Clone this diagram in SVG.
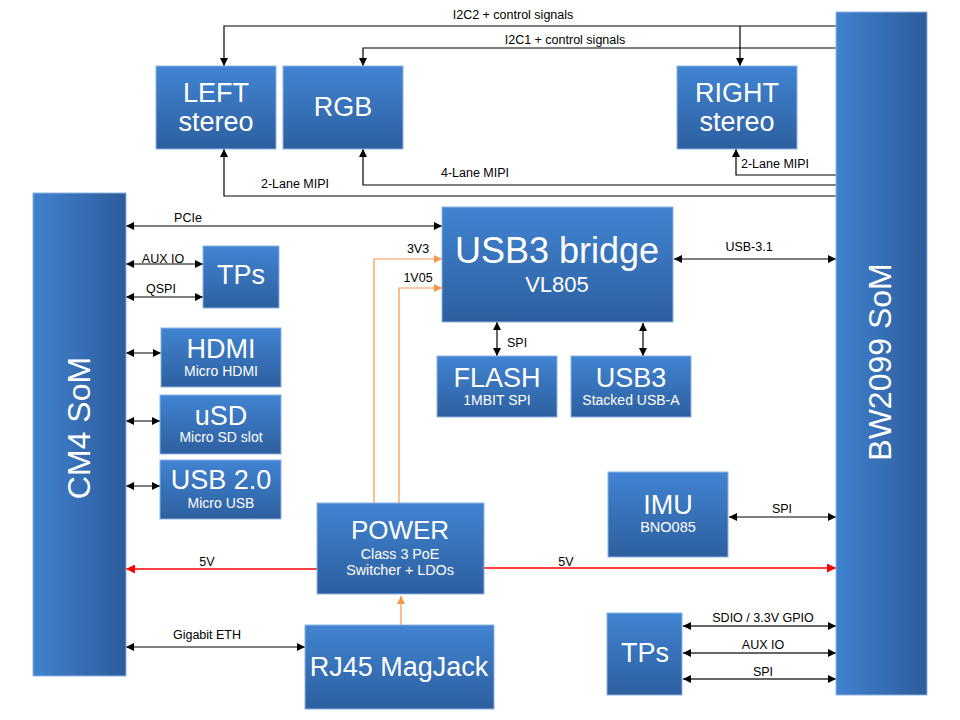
<svg xmlns="http://www.w3.org/2000/svg" width="960" height="720" viewBox="0 0 960 720">
<defs>
<linearGradient id="gv" x1="0" y1="0" x2="0" y2="1">
<stop offset="0" stop-color="#4184d2"/>
<stop offset="1" stop-color="#2d5f9f"/>
</linearGradient>
<linearGradient id="gh" x1="0" y1="0" x2="1" y2="0">
<stop offset="0" stop-color="#4082d0"/>
<stop offset="1" stop-color="#2d5c9a"/>
</linearGradient>
<marker id="ak" viewBox="0 0 10 10" refX="10" refY="5" markerWidth="9" markerHeight="8" markerUnits="userSpaceOnUse" orient="auto-start-reverse">
<path d="M0,0 L10,5 L0,10 z" fill="#000"/>
</marker>
<marker id="ao" viewBox="0 0 10 10" refX="10" refY="5" markerWidth="9" markerHeight="8" markerUnits="userSpaceOnUse" orient="auto-start-reverse">
<path d="M0,0 L10,5 L0,10 z" fill="#f79646"/>
</marker>
<marker id="ar" viewBox="0 0 10 10" refX="10" refY="5" markerWidth="10" markerHeight="9" markerUnits="userSpaceOnUse" orient="auto-start-reverse">
<path d="M0,0 L10,5 L0,10 z" fill="#ff0000"/>
</marker>
</defs>
<style>
.box{fill:url(#gv);stroke:#8db3e2;stroke-width:1}
.som{fill:url(#gh);stroke:#8db3e2;stroke-width:1}
text{font-family:"Liberation Sans",Arial,sans-serif}
.big{fill:#fff;font-size:27px;text-anchor:middle}
.sub{fill:#fff;font-size:14px;text-anchor:middle}
.vert{fill:#fff;font-size:32px;text-anchor:middle}
.lbl{fill:#000;font-size:12.5px;text-anchor:middle}
.k{fill:none;stroke:#000;stroke-width:1.2}
.k2{fill:none;stroke:#333;stroke-width:1.6}
.o{fill:none;stroke:#f79646;stroke-width:1.2}
.r{fill:none;stroke:#ff0000;stroke-width:1.3}
</style>
<rect width="960" height="720" fill="#fff"/>
<g id="connectors">
<path class="k" d="M836,26 H224 V66" marker-end="url(#ak)"/>
<path class="k" d="M740,26 V66" marker-end="url(#ak)"/>
<path class="k" d="M836,48 H363 V66" marker-end="url(#ak)"/>
<path class="k" d="M836,175 H736 V149" marker-end="url(#ak)"/>
<path class="k" d="M836,185 H363 V149" marker-end="url(#ak)"/>
<path class="k" d="M836,196 H224 V149" marker-end="url(#ak)"/>
<path class="k" d="M126,226 H442" marker-start="url(#ak)" marker-end="url(#ak)"/>
<path class="k" d="M126,264 H203" marker-start="url(#ak)" marker-end="url(#ak)"/>
<path class="k" d="M126,297 H203" marker-start="url(#ak)" marker-end="url(#ak)"/>
<path class="k" d="M126,353 H161" marker-start="url(#ak)" marker-end="url(#ak)"/>
<path class="k" d="M126,421 H160" marker-start="url(#ak)" marker-end="url(#ak)"/>
<path class="k" d="M126,486 H160" marker-start="url(#ak)" marker-end="url(#ak)"/>
<path class="o" d="M374,503 V259 H442" marker-end="url(#ao)"/>
<path class="o" d="M399,503 V288 H442" marker-end="url(#ao)"/>
<path class="k" d="M674,259 H836" marker-start="url(#ak)" marker-end="url(#ak)"/>
<path class="k" d="M497,322 V356" marker-start="url(#ak)" marker-end="url(#ak)"/>
<path class="k" d="M643,323 V356" marker-start="url(#ak)" marker-end="url(#ak)"/>
<path class="k" d="M729,517 H836" marker-start="url(#ak)" marker-end="url(#ak)"/>
<path class="r" d="M317,569 H126" marker-end="url(#ar)"/>
<path class="r" d="M484,568 H836" marker-end="url(#ar)"/>
<path class="o" d="M401,625 V596" marker-end="url(#ao)"/>
<path class="k" d="M126,647 H305" marker-start="url(#ak)" marker-end="url(#ak)"/>
<path class="k2" d="M683,626 H836" marker-start="url(#ak)" marker-end="url(#ak)"/>
<path class="k2" d="M683,653 H836" marker-start="url(#ak)" marker-end="url(#ak)"/>
<path class="k2" d="M683,679 H836" marker-start="url(#ak)" marker-end="url(#ak)"/>
<text class="lbl" x="513" y="18.5">I2C2  + control signals</text>
<text class="lbl" x="565" y="43.5">I2C1  + control signals</text>
<text class="lbl" x="741" y="167.5" style="text-anchor:start">2-Lane  MIPI</text>
<text class="lbl" x="475" y="176.5">4-Lane  MIPI</text>
<text class="lbl" x="295" y="187.5">2-Lane  MIPI</text>
<text class="lbl" x="188" y="221.5">PCIe</text>
<text class="lbl" x="163" y="262.5">AUX  IO</text>
<text class="lbl" x="161" y="292.5">QSPI</text>
<text class="lbl" x="418" y="252.5">3V3</text>
<text class="lbl" x="418" y="281.5">1V05</text>
<text class="lbl" x="749" y="250.5">USB-3.1</text>
<text class="lbl" x="507" y="346.5" style="text-anchor:start">SPI</text>
<text class="lbl" x="782" y="512.5">SPI</text>
<text class="lbl" x="207" y="565.5">5V</text>
<text class="lbl" x="566" y="565.5">5V</text>
<text class="lbl" x="207" y="638.5">Gigabit  ETH</text>
<text class="lbl" x="763" y="621.5">SDIO  / 3.3V GPIO</text>
<text class="lbl" x="763" y="648.5">AUX  IO</text>
<text class="lbl" x="763" y="676">SPI</text>
</g>
<g id="cm4">
<rect class="som" x="33" y="193" width="93" height="483"/>
<text class="vert" transform="translate(90,428) rotate(-90)">CM4 SoM</text>
</g>
<g id="bw2099">
<rect class="som" x="836" y="12" width="91" height="683"/>
<text class="vert" transform="translate(891,362) rotate(-90)">BW2099 SoM</text>
</g>
<g id="left-stereo">
<rect class="box" x="156" y="66" width="120" height="83"/>
<text class="big" x="216" y="102">LEFT</text>
<text class="big" x="216" y="131">stereo</text>
</g>
<g id="rgb">
<rect class="box" x="283" y="66" width="120" height="83"/>
<text class="big" x="343" y="116">RGB</text>
</g>
<g id="right-stereo">
<rect class="box" x="677" y="66" width="120" height="83"/>
<text class="big" x="737" y="102">RIGHT</text>
<text class="big" x="737" y="131">stereo</text>
</g>
<g id="usb3-bridge">
<rect class="box" x="442" y="207" width="231" height="115"/>
<text class="big" x="557" y="263" style="font-size:36px">USB3 bridge</text>
<text class="big" x="557" y="292" style="font-size:22px">VL805</text>
</g>
<g id="tps-left">
<rect class="box" x="203" y="246" width="76" height="62"/>
<text class="big" x="241" y="284">TPs</text>
</g>
<g id="hdmi">
<rect class="box" x="161" y="328" width="120" height="59"/>
<text class="big" x="221" y="358">HDMI</text>
<text class="sub" x="221" y="376">Micro HDMI</text>
</g>
<g id="usd">
<rect class="box" x="160" y="395" width="121" height="59"/>
<text class="big" x="221" y="425">uSD</text>
<text class="sub" x="221" y="442">Micro SD slot</text>
</g>
<g id="usb2">
<rect class="box" x="160" y="460" width="121" height="59"/>
<text class="big" x="221" y="489">USB 2.0</text>
<text class="sub" x="221" y="508">Micro USB</text>
</g>
<g id="flash">
<rect class="box" x="437" y="356" width="120" height="61"/>
<text class="big" x="497" y="387">FLASH</text>
<text class="sub" x="497" y="405">1MBIT  SPI</text>
</g>
<g id="usb3">
<rect class="box" x="571" y="356" width="120" height="61"/>
<text class="big" x="631" y="387">USB3</text>
<text class="sub" x="631" y="405">Stacked USB-A</text>
</g>
<g id="imu">
<rect class="box" x="608" y="472" width="120" height="85"/>
<text class="big" x="668" y="514">IMU</text>
<text class="sub" x="668" y="532" style="font-size:14.5px">BNO085</text>
</g>
<g id="power">
<rect class="box" x="317" y="503" width="167" height="91"/>
<text class="big" x="400" y="539" style="font-size:26px">POWER</text>
<text class="sub" x="400" y="558.5" style="font-size:14.3px">Class 3 PoE</text>
<text class="sub" x="400" y="574.5" style="font-size:14.3px">Switcher + LDOs</text>
</g>
<g id="rj45">
<rect class="box" x="305" y="625" width="189" height="84"/>
<text class="big" x="399" y="676">RJ45 MagJack</text>
</g>
<g id="tps-right">
<rect class="box" x="607" y="613" width="75" height="82"/>
<text class="big" x="645" y="662">TPs</text>
</g>
</svg>
